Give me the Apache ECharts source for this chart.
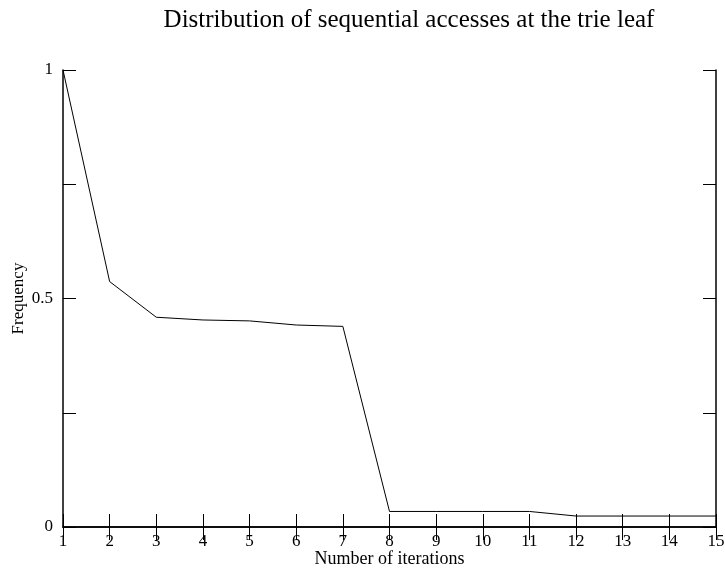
<!DOCTYPE html>
<html>
<head>
<meta charset="utf-8">
<script src="https://cdn.jsdelivr.net/npm/echarts@6/dist/echarts.min.js"></script>
<style>html,body{margin:0;padding:0;background:#fff}#c{width:725px;height:571px}</style>
</head>
<body>
<div id="c"></div>
<script>
const iterations = [1, 2, 3, 4, 5, 6, 7, 8, 9, 10, 11, 12, 13, 14, 15];
const frequency = [1.0, 0.537, 0.459, 0.453, 0.451, 0.442, 0.439, 0.034, 0.034, 0.034, 0.034, 0.024, 0.024, 0.024, 0.024];
const yLabels = { 0: '0', 0.5: '0.5', 1: '1' };

const FONT = '"Liberation Serif", "DejaVu Serif", serif';
const chart = echarts.init(document.getElementById('c'));
const axisLine = { show: true, lineStyle: { color: '#000', width: 1.5 } };
const tick = { show: true, inside: true, length: 13, lineStyle: { color: '#000', width: 1 } };
chart.setOption({
  animation: false,
  backgroundColor: '#fff',
  title: {
    text: 'Distribution of sequential accesses at the trie leaf',
    left: 404, top: 3, textAlign: 'center',
    textStyle: { fontFamily: FONT, fontSize: 25, fontWeight: 'normal', color: '#000' }
  },
  grid: { left: 63, right: 9, top: 70, bottom: 44, containLabel: false, outerBoundsMode: 'none' },
  xAxis: [{
    type: 'value', min: 1, max: 15, interval: 1,
    name: 'Number of iterations', nameLocation: 'middle', nameGap: 23, nameMoveOverlap: false,
    nameTextStyle: { fontFamily: FONT, fontSize: 18, color: '#000' },
    axisLine, axisTick: tick, splitLine: { show: false },
    axisLabel: { fontFamily: FONT, fontSize: 17, color: '#000', margin: 6 }
  }, {
    type: 'value', min: 1, max: 15, interval: 1, position: 'top',
    axisLine, axisTick: tick, splitLine: { show: false }, axisLabel: { show: false }
  }],
  yAxis: [{
    type: 'value', min: 0, max: 1, interval: 0.25,
    name: 'Frequency', nameLocation: 'middle', nameGap: 36, nameMoveOverlap: false,
    nameTextStyle: { fontFamily: FONT, fontSize: 17, color: '#000' },
    axisLine, axisTick: tick, splitLine: { show: false },
    axisLabel: { fontFamily: FONT, fontSize: 17, color: '#000', margin: 10,
      formatter: v => (yLabels[v] !== undefined ? yLabels[v] : '') }
  }, {
    type: 'value', min: 0, max: 1, interval: 0.25, position: 'right',
    axisLine, axisTick: tick, splitLine: { show: false }, axisLabel: { show: false }
  }],
  series: [{
    type: 'line',
    data: iterations.map((x, i) => [x, frequency[i]]),
    showSymbol: false, symbol: 'none',
    lineStyle: { color: '#000', width: 1 }
  }]
});
</script>
</body>
</html>
